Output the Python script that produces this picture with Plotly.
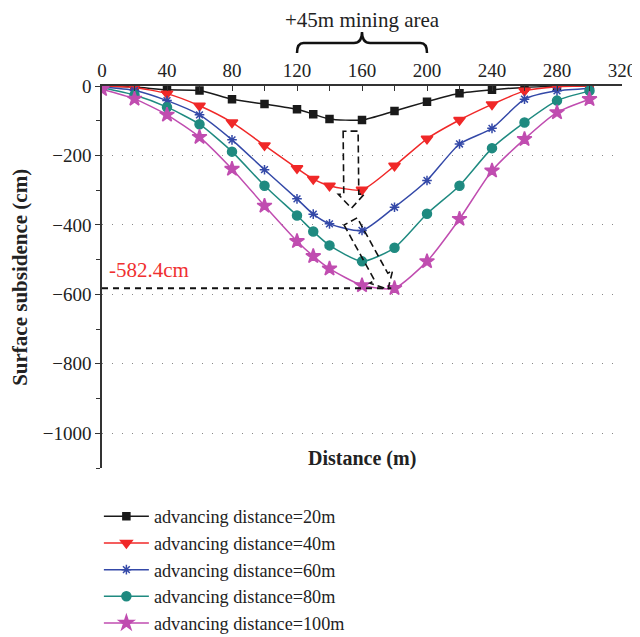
import plotly.graph_objects as go

distance = [0, 20, 40, 60, 80, 100, 120, 130, 140, 160, 180, 200, 220, 240, 260, 280, 300]
adv20 = [0, -3, -11, -13, -38, -52, -67, -81, -95, -98, -72, -45, -21, -11, -4, -1, 0]
adv40 = [-1, -4, -22, -57, -105, -171, -237, -268, -287, -299, -230, -152, -98, -53, -14, -2, 0]
adv60 = [-3, -13, -42, -83, -155, -241, -325, -369, -397, -416, -349, -272, -167, -122, -38, -14, -7]
adv80 = [-5, -26, -61, -110, -189, -287, -373, -419, -459, -505, -466, -368, -287, -179, -105, -42, -14]
adv100 = [-9, -37, -83, -147, -239, -345, -447, -490, -526, -574, -582.4, -505, -383, -244, -153, -76, -38]

names = ["advancing distance=20m", "advancing distance=40m", "advancing distance=60m",
         "advancing distance=80m", "advancing distance=100m"]
colors = ["#1a1a1a", "#f02828", "#3449a8", "#1f8a80", "#c04db0"]
symbols = ["square", "triangle-down", "asterisk-open", "circle", "star"]
sizes = [7, 10, 8, 9, 11]

FONT = "Liberation Serif"

fig = go.Figure()
for ys, nm, c, s, sz in zip([adv20, adv40, adv60, adv80, adv100], names, colors, symbols, sizes):
    fig.add_trace(go.Scatter(
        x=distance, y=ys, name=nm, mode="lines+markers",
        line=dict(color=c, width=1.5, shape="spline", smoothing=0.6),
        marker=dict(symbol=s, size=sz, color=c, line=dict(color=c, width=1.5)),
    ))

# min line
min_val = -582.4
min_x = 178
fig.add_shape(type="line", x0=0, x1=min_x, y0=min_val, y1=min_val, xref="x", yref="y",
              line=dict(color="#111", width=2, dash="6px,5px"))
fig.add_annotation(x=3, y=-529, xref="x", yref="y", text="-582.4cm", showarrow=False,
                   xanchor="left", yanchor="middle", font=dict(family=FONT, size=21, color="#f03030"))

# block arrows (dashed outline), defined in pixel-like units then converted
PX_X = 520 / 320
PX_Y = 382 / 1100

def arrow_path(x0, y0, x1, y1, shaft=15, head=26, hlen=14):
    import math
    ax, ay = x0 * PX_X, -y0 * PX_Y
    bx, by = x1 * PX_X, -y1 * PX_Y
    dx, dy = bx - ax, by - ay
    L = math.hypot(dx, dy)
    ux, uy = dx / L, dy / L
    nx, ny = -uy, ux
    sx, sy = bx - ux * hlen, by - uy * hlen
    pts = [
        (ax + nx * shaft / 2, ay + ny * shaft / 2),
        (sx + nx * shaft / 2, sy + ny * shaft / 2),
        (sx + nx * head / 2, sy + ny * head / 2),
        (bx, by),
        (sx - nx * head / 2, sy - ny * head / 2),
        (sx - nx * shaft / 2, sy - ny * shaft / 2),
        (ax - nx * shaft / 2, ay - ny * shaft / 2),
    ]
    d = ""
    for i, (px, py) in enumerate(pts):
        d += ("M" if i == 0 else "L") + f"{px / PX_X:.3f},{-py / PX_Y:.3f} "
    return d + "Z"

fig.add_shape(type="path", path=arrow_path(153, -130, 153.5, -352), xref="x", yref="y",
              line=dict(color="#111", width=1.6, dash="7px,4px"))
fig.add_shape(type="path", path=arrow_path(153, -390, 176, -585), xref="x", yref="y",
              line=dict(color="#111", width=1.6, dash="7px,4px"))

# mining area brace
yb, ym, yt = 1.0864, 1.1126, 1.1414
brace = (f"M120,{yb} Q120,{ym} 124,{ym} L155,{ym} Q160,{ym} 160,{yt} "
         f"Q160,{ym} 165,{ym} L196,{ym} Q200,{ym} 200,{yb}")
fig.add_shape(type="path", path=brace, xref="x", yref="paper",
              line=dict(color="#111", width=2.5))
fig.add_annotation(x=160, y=1.172, xref="x", yref="paper", text="+45m mining area",
                   showarrow=False, yanchor="middle", font=dict(family=FONT, size=21, color="#222"))

fig.add_annotation(x=160, y=0.026, xref="x", yref="paper", text="<b>Distance (m)</b>",
                   showarrow=False, yanchor="middle", font=dict(family=FONT, size=20, color="#222"))

fig.add_annotation(x=-0.158, y=0.5, xref="paper", yref="paper", text="<b>Surface subsidence (cm)</b>",
                   textangle=-90, showarrow=False, xanchor="center", yanchor="middle",
                   font=dict(family=FONT, size=21, color="#222"))

fig.update_layout(
    width=632, height=629,
    margin=dict(l=94, r=18, t=78, b=169, autoexpand=False),
    paper_bgcolor="white", plot_bgcolor="white",
    font=dict(family=FONT, size=19, color="#222"),
    showlegend=True,
    legend=dict(x=-0.006, y=0.221, yref="container", xanchor="left", yanchor="top",
                font=dict(family=FONT, size=18.2, color="#222"),
                itemwidth=45, tracegroupgap=0,
                bgcolor="rgba(0,0,0,0)"),
    xaxis=dict(range=[0, 320], side="top", tickvals=[0, 40, 80, 120, 160, 200, 240, 280, 320],
               ticks="inside", ticklen=5, tickcolor="#333", showline=True, linecolor="#333",
               linewidth=1.5, showgrid=False, zeroline=False, automargin=False,
               minor=dict(dtick=20, ticks="inside", ticklen=5, tickcolor="#333"),
               tickfont=dict(family=FONT, size=19, color="#222")),
    yaxis=dict(range=[-1100, 0], tickvals=[0, -200, -400, -600, -800, -1000],
               ticks="outside", ticklen=5, tickcolor="#333", showline=True, linecolor="#333",
               linewidth=1.5, showgrid=True, gridcolor="#888", griddash="1px,9px", gridwidth=1,
               zeroline=False, automargin=False,
               minor=dict(tickvals=[-100, -300, -500, -700, -900, -1100], ticks="outside",
                          ticklen=4, tickcolor="#333"),
               tickfont=dict(family=FONT, size=19, color="#222")),
)

fig.write_html("out.html")
